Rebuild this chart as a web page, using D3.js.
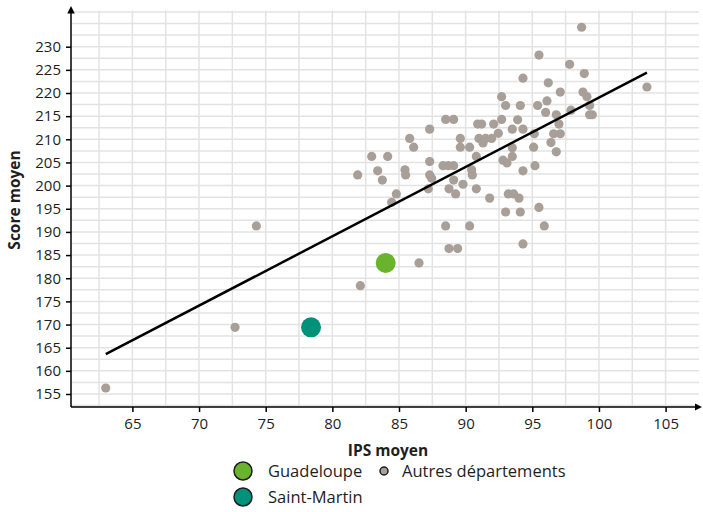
<!DOCTYPE html>
<html>
<head>
<meta charset="utf-8">
<script src="https://cdn.jsdelivr.net/npm/d3@7"></script>
<style>
  body { margin: 0; background: #fff; }
  text { font-family: "Open Sans", sans-serif; fill: #1e1e1e; }
</style>
</head>
<body>
<div id="chart"></div>
<script>
// autres départements : IPS moyen / score moyen
const ipsAutres = [98.7, 95.5, 97.8, 98.9, 94.3, 96.2, 103.6, 97.1, 98.8, 99.1, 92.7, 93.0, 94.1, 95.4, 96.1, 96.0,
  99.3, 97.9, 99.3, 99.5, 96.8, 92.7, 93.9, 97.0, 92.45, 93.5, 94.3, 95.15, 96.6, 97.1, 93.5, 95.1, 96.4, 96.8,
  93.5, 92.8, 93.1, 95.2, 94.3, 93.2, 93.6, 94.0, 95.5, 93.0, 94.1, 95.9, 94.3, 82.95, 84.15, 85.8, 86.1, 87.3,
  88.5, 89.1, 89.6, 89.6, 90.3, 90.9, 91.2, 92.1, 91.0, 91.5, 91.95, 91.3, 90.8, 87.3, 81.9, 83.4, 83.75, 85.45,
  85.5, 87.3, 87.45, 88.3, 88.7, 89.1, 89.1, 90.45, 90.5, 89.8, 84.8, 84.45, 87.2, 88.75, 89.25, 90.8, 91.8,
  88.5, 90.3, 88.75, 89.4, 86.5, 82.1, 63.0, 72.7, 74.3];
const scoreAutres = [234.2, 228.2, 226.2, 224.2, 223.2, 222.2, 221.3, 220.2, 220.2, 219.2, 219.2, 217.3, 217.3, 217.3, 218.3, 215.8,
  217.3, 216.3, 215.3, 215.3, 215.3, 214.3, 214.2, 213.3, 211.3, 212.2, 212.2, 211.2, 211.2, 211.2, 208.2, 208.3, 209.3, 207.3,
  206.3, 205.5, 204.9, 204.3, 203.2, 198.2, 198.2, 197.3, 195.3, 194.3, 194.3, 191.3, 187.4, 206.3, 206.3, 210.2, 208.3, 212.2,
  214.3, 214.3, 210.2, 208.3, 208.3, 213.3, 213.3, 213.3, 210.2, 210.2, 210.2, 209.2, 206.3, 205.2, 202.3, 203.2, 201.2, 203.4,
  202.3, 202.3, 201.6, 204.3, 204.3, 204.3, 201.2, 203.4, 202.3, 200.3, 198.2, 196.4, 199.3, 199.3, 198.2, 199.3, 197.3,
  191.3, 191.3, 186.4, 186.4, 183.3, 178.4, 156.3, 169.4, 191.3];

// départements mis en avant
const highlightNames = ["Guadeloupe", "Saint-Martin"];
const highlightIps = [84.0, 78.4];
const highlightScore = [183.3, 169.4];
const highlightColors = ["#6ab42d", "#00917a"];

// droite de régression (extrémités)
const trendIps = [63.0, 103.6];
const trendScore = [163.6, 224.4];

const xTicks = [65, 70, 75, 80, 85, 90, 95, 100, 105];
const yTicks = [155, 160, 165, 170, 175, 180, 185, 190, 195, 200, 205, 210, 215, 220, 225, 230];
const xGrid = d3.range(62.5, 105.1, 2.5);
const yGrid = d3.range(152.5, 237.6, 2.5);

const W = 703, H = 512;
const axisLeft = 71, axisBottom = 407;

const svg = d3.select("#chart").append("svg").attr("width", W).attr("height", H);

const x = d3.scaleLinear().domain([65, 105]).range([132.4, 665.6]);
const y = d3.scaleLinear().domain([155, 230]).range([394, 46.7]);

// grille
svg.append("g").selectAll("line").data(xGrid).join("line")
  .attr("x1", d => x(d)).attr("x2", d => x(d))
  .attr("y1", axisBottom).attr("y2", y(237.8))
  .attr("stroke", "#e3e3e3").attr("stroke-width", 1.5);
svg.append("g").selectAll("line").data(yGrid).join("line")
  .attr("x1", axisLeft).attr("x2", 699)
  .attr("y1", d => y(d)).attr("y2", d => y(d))
  .attr("stroke", "#e3e3e3").attr("stroke-width", 1.5);

// flèches
const defs = svg.append("defs");
defs.append("marker").attr("id", "arrow")
  .attr("viewBox", "0 0 10 10").attr("refX", 2).attr("refY", 5)
  .attr("markerWidth", 5).attr("markerHeight", 5).attr("orient", "auto")
  .append("path").attr("d", "M0,0 L10,5 L0,10 z").attr("fill", "#000");

// axes
const gx = svg.append("g").attr("transform", `translate(0,${axisBottom})`)
  .call(d3.axisBottom(x).tickValues(xTicks).tickSize(5).tickPadding(6));
const gy = svg.append("g").attr("transform", `translate(${axisLeft},0)`)
  .call(d3.axisLeft(y).tickValues(yTicks).tickSize(5).tickPadding(5));
[gx, gy].forEach(g => {
  g.select(".domain").remove();
  g.selectAll(".tick line").attr("stroke", "#000").attr("stroke-width", 1.5);
  g.selectAll(".tick text").style("font-size", "15px").attr("fill", "#1e1e1e");
});

svg.append("line").attr("x1", axisLeft).attr("x2", 696).attr("y1", axisBottom).attr("y2", axisBottom)
  .attr("stroke", "#000").attr("stroke-width", 1.5).attr("marker-end", "url(#arrow)");
svg.append("line").attr("x1", axisLeft).attr("x2", axisLeft).attr("y1", axisBottom).attr("y2", 12)
  .attr("stroke", "#000").attr("stroke-width", 1.5).attr("marker-end", "url(#arrow)");

// titres
svg.append("text").attr("x", 388).attr("y", 456).attr("text-anchor", "middle")
  .style("font-size", "15.5px").style("font-weight", "bold").text("IPS moyen");
svg.append("text").attr("transform", "translate(20,200) rotate(-90)").attr("text-anchor", "middle")
  .style("font-size", "15.5px").style("font-weight", "bold").text("Score moyen");

// points
const autres = ipsAutres.map((v, i) => ({ips: v, score: scoreAutres[i]}));
svg.append("g").selectAll("circle").data(autres).join("circle")
  .attr("cx", d => x(d.ips)).attr("cy", d => y(d.score)).attr("r", 4.6)
  .attr("fill", "#a89f99");

// droite
const trend = trendIps.map((v, i) => ({ips: v, score: trendScore[i]}));
svg.append("path").datum(trend)
  .attr("d", d3.line().x(d => x(d.ips)).y(d => y(d.score)))
  .attr("fill", "none").attr("stroke", "#000").attr("stroke-width", 2.5);

const highlights = highlightNames.map((n, i) => ({name: n, ips: highlightIps[i], score: highlightScore[i], color: highlightColors[i]}));
svg.append("g").selectAll("circle").data(highlights).join("circle")
  .attr("cx", d => x(d.ips)).attr("cy", d => y(d.score)).attr("r", 10)
  .attr("fill", d => d.color);

// légende
const leg = svg.append("g");
highlights.forEach((d, i) => {
  leg.append("circle").attr("cx", 243).attr("cy", 471 + i * 26).attr("r", 9)
    .attr("fill", d.color).attr("stroke", "#1e1e1e").attr("stroke-width", 1.5);
  leg.append("text").attr("x", 268).attr("y", 471 + i * 26).attr("dy", "0.35em")
    .style("font-size", "16.5px").text(d.name);
});
leg.append("circle").attr("cx", 384).attr("cy", 471).attr("r", 4)
  .attr("fill", "#a89f99").attr("stroke", "#1e1e1e").attr("stroke-width", 1.5);
leg.append("text").attr("x", 402).attr("y", 471).attr("dy", "0.35em")
  .style("font-size", "16.5px").text("Autres départements");
</script>
</body>
</html>
